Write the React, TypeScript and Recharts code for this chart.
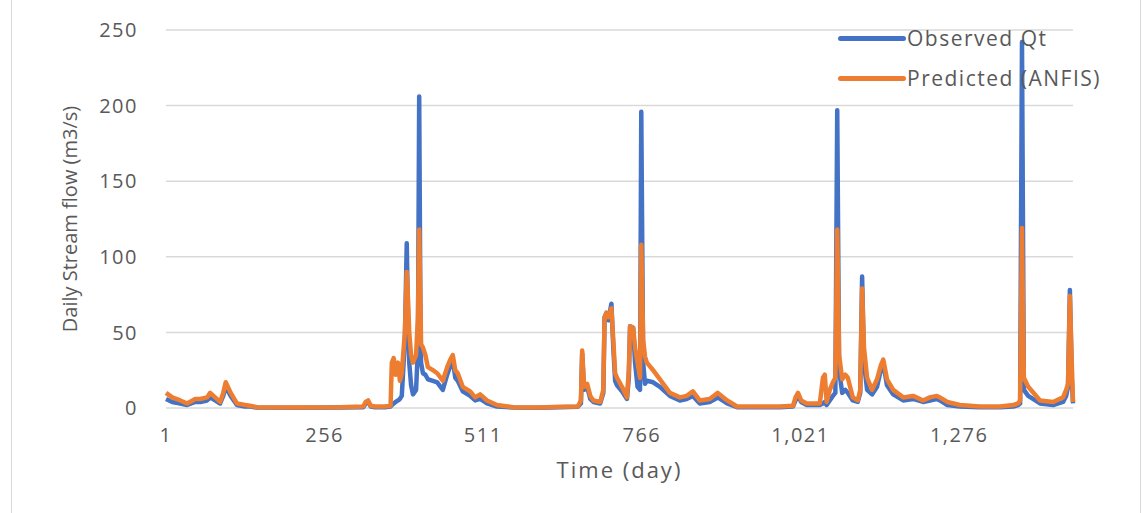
import { CartesianGrid, Line, LineChart, XAxis, YAxis } from 'recharts';

const days = [
  1, 11, 24, 35, 48, 56, 67, 72, 80, 88, 93, 97, 105, 115, 128, 136, 147, 216, 281, 318,
  322, 326, 330, 337, 353, 362, 364, 367, 370, 374, 377, 380, 385, 388, 390, 392, 395, 398, 403, 406,
  408, 410, 411, 414, 418, 422, 430, 437, 446, 453, 458, 462, 466, 470, 478, 490, 498, 506, 517, 533,
  559, 602, 634, 663, 668, 670, 673, 678, 683, 688, 699, 704, 706, 709, 712, 717, 720, 723, 726, 734,
  742, 745, 747, 752, 755, 759, 763, 765, 768, 771, 774, 784, 795, 811, 827, 838, 848, 859, 875, 888,
  903, 919, 956, 988, 1009, 1013, 1017, 1022, 1031, 1052, 1057, 1060, 1063, 1068, 1073, 1077, 1080, 1083, 1088, 1093,
  1097, 1105, 1113, 1117, 1120, 1123, 1128, 1136, 1144, 1150, 1154, 1160, 1170, 1186, 1202, 1218, 1229, 1240, 1245, 1257,
  1277, 1309, 1342, 1363, 1371, 1374, 1377, 1380, 1387, 1406, 1427, 1443, 1448, 1451, 1454, 1457, 1459,
];

const observed = [
  6, 4, 3, 2, 4, 4, 5, 7, 5, 3, 8, 14, 8, 2, 1, 1, 0.3, 0.2, 0.3, 0.5,
  3, 4, 1, 0.5, 0.5, 1, 2, 3, 4, 5, 6, 8, 45, 109, 60, 30, 15, 9, 12, 40,
  206, 60, 30, 23, 22, 19, 18, 17, 12, 22, 28, 32, 20, 18, 11, 8, 5, 6, 3, 1,
  0.3, 0.2, 0.5, 0.8, 3, 36, 12, 14, 6, 4, 3, 10, 60, 63, 58, 69, 40, 18, 15, 11,
  6, 20, 54, 53, 30, 14, 12, 196, 30, 16, 18, 17, 14, 8, 5, 6, 8, 3, 4, 7,
  3, 0.5, 0.5, 0.5, 1, 5, 8, 4, 2, 2, 3, 4, 2, 5, 8, 10, 197, 25, 10, 12,
  10, 5, 4, 10, 87, 30, 12, 9, 14, 25, 30, 15, 9, 5, 6, 4, 5, 6, 5, 2,
  1, 0.5, 0.5, 1, 2, 3, 242, 12, 8, 3, 2, 4, 8, 14, 78, 20, 3,
];

const predicted = [
  10, 7, 5, 3, 6, 6, 7, 10, 7, 4, 10, 17, 10, 3, 2, 1.5, 0.5, 0.3, 0.5, 1,
  4, 5, 1.5, 1, 1, 1.5, 30, 33, 22, 30, 18, 23, 50, 90, 72, 50, 35, 30, 35, 60,
  118, 70, 42, 40, 35, 27, 25, 23, 18, 27, 32, 35, 25, 23, 14, 11, 7, 9, 5, 2,
  0.5, 0.3, 0.8, 1, 5, 38, 14, 16, 8, 5, 4, 12, 60, 63, 60, 66, 45, 23, 20, 14,
  7, 25, 54, 53, 40, 30, 20, 108, 45, 34, 30, 25, 19, 10, 7, 8, 11, 5, 6, 10,
  5, 1, 1, 1, 1.5, 7, 10, 5, 3, 3, 20, 22, 4, 12, 17, 20, 118, 35, 19, 22,
  20, 7, 5, 12, 79, 40, 20, 12, 19, 28, 32, 19, 12, 7, 8, 5, 7, 8, 7, 4,
  2, 1, 1, 2, 3, 5, 119, 20, 14, 5, 4, 7, 12, 16, 74, 30, 4,
];

const xTicks = [1, 256, 511, 766, 1021, 1276];
const yTicks = [0, 50, 100, 150, 200, 250];

const series = [
  { key: 'observed', label: 'Observed Qt', color: '#4472C4' },
  { key: 'predicted', label: 'Predicted (ANFIS)', color: '#ED7D31' },
] as const;

const data = days.map((day, i) => ({
  day,
  observed: observed[i],
  predicted: predicted[i],
}));

const font = '"Open Sans", sans-serif';
const textColor = '#595959';

function ChartLegend() {
  return (
    <div
      style={{
        position: 'absolute',
        left: 838,
        top: 18,
        fontFamily: font,
        fontSize: 21,
        letterSpacing: 1.5,
        color: textColor,
        whiteSpace: 'nowrap',
      }}
    >
      {series.map((item) => (
        <div key={item.key} style={{ display: 'flex', alignItems: 'center', height: 40 }}>
          <span
            style={{
              display: 'inline-block',
              width: 68,
              height: 5,
              borderRadius: 3,
              background: item.color,
              marginRight: 1,
            }}
          />
          <span>{item.label}</span>
        </div>
      ))}
    </div>
  );
}

export default function App() {
  return (
    <div
      style={{
        position: 'absolute',
        left: 0,
        top: 0,
        width: 1146,
        height: 513,
        background: '#fff',
        overflow: 'hidden',
      }}
    >
      <div
        style={{
          position: 'absolute',
          left: 11,
          top: -1,
          width: 1128,
          height: 520,
          border: '1px solid #d9d9d9',
        }}
      />
      <LineChart
        width={1146}
        height={513}
        data={data}
        margin={{ top: 30, right: 73, left: 36, bottom: 75 }}
      >
        <CartesianGrid vertical={false} stroke="#d9d9d9" strokeWidth={1.5} />
        <XAxis
          dataKey="day"
          type="number"
          domain={[1, 1458]}
          ticks={xTicks}
          tickFormatter={(v: number) => v.toLocaleString('en-US')}
          tick={{ fill: textColor, fontSize: 20, fontFamily: font, letterSpacing: 1.5 }}
          tickLine={false}
          axisLine={false}
          tickSize={0}
          tickMargin={20}
          height={30}
          interval={0}
          label={{
            value: 'Time (day)',
            position: 'insideBottom',
            offset: -40,
            fill: textColor,
            fontSize: 22,
            fontFamily: font,
            letterSpacing: 2,
          }}
        />
        <YAxis
          domain={[0, 250]}
          ticks={yTicks}
          width={130}
          tick={{ fill: textColor, fontSize: 20, fontFamily: font, letterSpacing: 1.5 }}
          tickLine={false}
          axisLine={false}
          tickSize={0}
          tickMargin={28}
          label={{
            value: 'Daily Stream flow (m3/s)',
            angle: -90,
            position: 'insideLeft',
            offset: 34,
            fill: textColor,
            fontSize: 20,
            fontFamily: font,
            style: { textAnchor: 'middle' },
          }}
        />
        {series.map((item) => (
          <Line
            key={item.key}
            type="linear"
            dataKey={item.key}
            name={item.label}
            stroke={item.color}
            strokeWidth={4.5}
            strokeLinejoin="round"
            dot={false}
            activeDot={false}
            isAnimationActive={false}
          />
        ))}
      </LineChart>
      <ChartLegend />
    </div>
  );
}
